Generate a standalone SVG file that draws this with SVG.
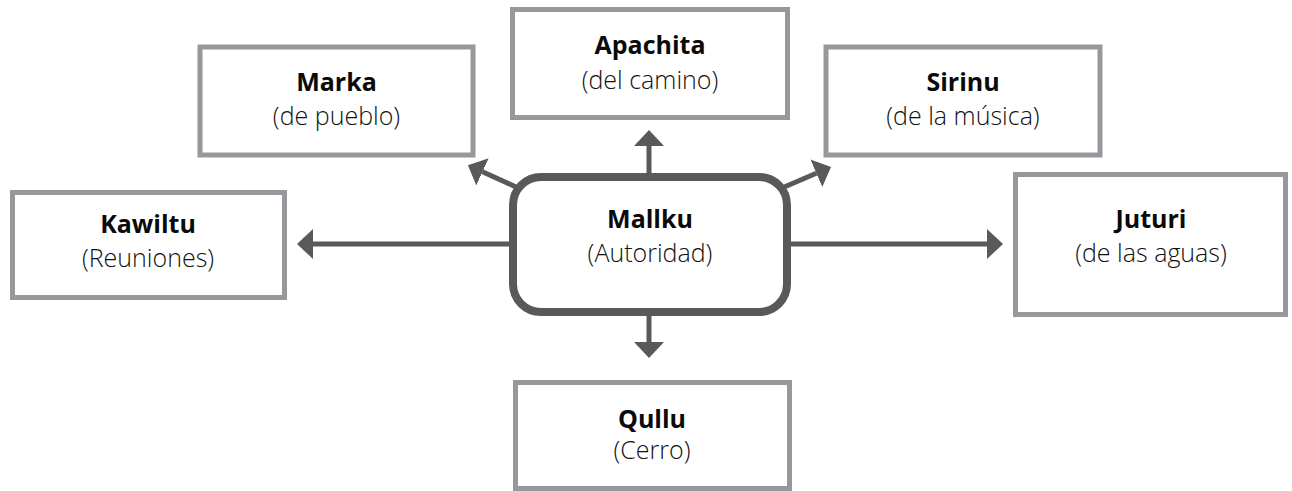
<svg xmlns="http://www.w3.org/2000/svg" width="1292" height="491" viewBox="0 0 1292 491">
  <style>
    .box { fill: #ffffff; stroke: #97989b; stroke-width: 5; }
    .center { fill: #ffffff; stroke: #58595b; stroke-width: 8; }
    .t { font-family: "Open Sans", "Liberation Sans", sans-serif; font-size: 25px; font-weight: 700; fill: #0a0a0a; text-anchor: middle; }
    .s { font-family: "Open Sans", "Liberation Sans", sans-serif; font-size: 25px; font-weight: 300; fill: #111111; text-anchor: middle; }
    .c { stroke: #58595b; stroke-width: 5; fill: none; }
  </style>
  <defs>
    <marker id="ah" viewBox="0 0 16 30" refX="0" refY="15" markerWidth="16" markerHeight="30" markerUnits="userSpaceOnUse" orient="auto">
      <path d="M0,0 L16,15 L0,30 Z" fill="#58595b"/>
    </marker>
  </defs>
  <rect width="1292" height="491" fill="#ffffff"/>

  <g id="connectors">
    <line class="c" x1="649" y1="176" x2="649" y2="146" marker-end="url(#ah)"/>
    <line class="c" x1="649" y1="314" x2="649" y2="342" marker-end="url(#ah)"/>
    <line class="c" x1="512" y1="244" x2="313" y2="244" marker-end="url(#ah)"/>
    <line class="c" x1="788" y1="244" x2="987" y2="244" marker-end="url(#ah)"/>
    <line class="c" x1="516" y1="187" x2="482.5" y2="171.8" marker-end="url(#ah)"/>
    <line class="c" x1="782" y1="188" x2="816.3" y2="173.3" marker-end="url(#ah)"/>
  </g>

  <g id="node-apachita">
    <rect class="box" x="512.5" y="9.5" width="275" height="108"/>
    <text class="t" x="650" y="54">Apachita</text>
    <text class="s" x="650" y="89">(del camino)</text>
  </g>
  <g id="node-marka">
    <rect class="box" x="200" y="47" width="273" height="108"/>
    <text class="t" x="336.5" y="91">Marka</text>
    <text class="s" x="336.5" y="125">(de pueblo)</text>
  </g>
  <g id="node-sirinu">
    <rect class="box" x="826" y="47" width="274" height="108"/>
    <text class="t" x="963" y="91">Sirinu</text>
    <text class="s" x="963" y="125">(de la música)</text>
  </g>
  <g id="node-kawiltu">
    <rect class="box" x="12.5" y="192.5" width="272" height="105"/>
    <text class="t" x="148" y="233">Kawiltu</text>
    <text class="s" x="148" y="267">(Reuniones)</text>
  </g>
  <g id="node-juturi">
    <rect class="box" x="1015.5" y="174.5" width="270" height="140"/>
    <text class="t" x="1151" y="228">Juturi</text>
    <text class="s" x="1151" y="262">(de las aguas)</text>
  </g>
  <g id="node-qullu">
    <rect class="box" x="515.5" y="382.5" width="274" height="106"/>
    <text class="t" x="652" y="428">Qullu</text>
    <text class="s" x="652" y="459">(Cerro)</text>
  </g>
  <g id="node-mallku">
    <rect class="center" x="513" y="177" width="274" height="135" rx="28" ry="28"/>
    <text class="t" x="650" y="228">Mallku</text>
    <text class="s" x="650" y="262">(Autoridad)</text>
  </g>
</svg>
